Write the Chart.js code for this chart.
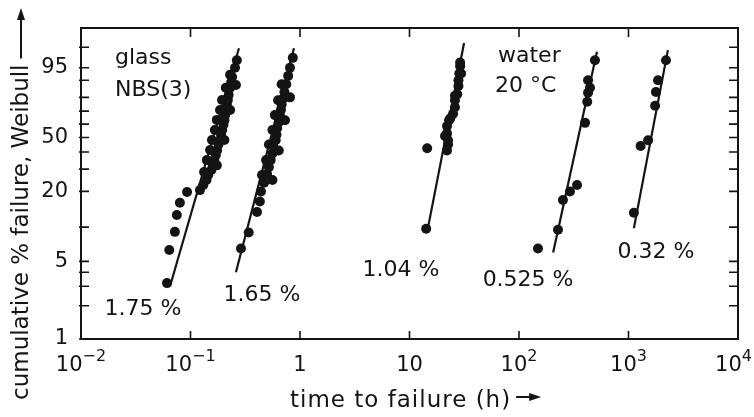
<!DOCTYPE html>
<html>
<head>
<meta charset="utf-8">
<script src="https://cdn.jsdelivr.net/npm/chart.js@4.4.1/dist/chart.umd.min.js"></script>
<style>
    html, body { margin: 0; padding: 0; background: #fff; }
    canvas { display: block; }
</style>
</head>
<body>
<canvas id="weibullChart" width="754" height="417"></canvas>
<script>
// time to failure (h) and cumulative % failure, one pair of arrays per strain level
const t175 = [0.061, 0.064, 0.072, 0.075, 0.080, 0.093, 0.122, 0.131, 0.140, 0.145, 0.155, 0.160, 0.165, 0.170, 0.175, 0.180, 0.186, 0.190, 0.195, 0.200, 0.204, 0.207, 0.210, 0.215, 0.219, 0.223, 0.230, 0.235, 0.240, 0.255, 0.265,
              0.133, 0.141, 0.151, 0.157, 0.167, 0.174, 0.186, 0.194, 0.210, 0.230, 0.174, 0.204, 0.230, 0.260];
const f175 = [3.2, 6.3, 9.1, 12.7, 16.1, 19.8, 20.5, 22.5, 24.7, 27, 29.5, 32, 35, 38, 41, 45, 48, 52, 55.6, 59.5, 63, 67, 71, 74.5, 78, 81.5, 86, 89, 91.5, 95, 97,
              28.5, 35, 41.3, 48.2, 55.6, 63.3, 70.9, 78.2, 86, 92.5, 32, 48.2, 70.9, 87.6];

const t165 = [0.289, 0.34, 0.405, 0.43, 0.44, 0.47, 0.50, 0.52, 0.54, 0.56, 0.57, 0.60, 0.61, 0.62, 0.64, 0.66, 0.67, 0.68, 0.70, 0.72, 0.75, 0.78, 0.81, 0.86,
              0.45, 0.49, 0.52, 0.56, 0.59, 0.63, 0.68, 0.56, 0.64, 0.73, 0.81];
const f165 = [6.5, 9, 13.5, 16.5, 20, 23.5, 27.5, 31, 35, 39, 44, 48, 52, 57, 61.5, 66, 71, 75, 79, 83.5, 88, 92, 95, 97.5,
              27, 35, 45, 55.6, 67, 78, 88, 24.7, 41, 63, 80];

const t104 = [14.2, 14.5, 22, 22.5, 22.5, 22, 22, 23, 25, 26, 26, 27.3, 28, 28, 28.5, 29, 29, 21.1, 23.6, 26, 29.6];
const f104 = [9.7, 42.5, 41, 45, 48, 53, 58.5, 63, 68, 73, 78, 82, 87, 90, 93, 95.5, 96.5, 51, 64.5, 81, 93];

const t0525 = [149, 227, 252, 292, 339, 401, 420, 427, 445, 427, 494];
const f0525 = [6.5, 9.5, 17, 20, 22.5, 61, 77, 83, 86, 90, 97];

const t032 = [1120, 1290, 1510, 1750, 1780, 1860, 2200];
const f032 = [13.3, 44, 48, 74, 83.5, 90, 97];

// fitted straight lines (end points)
const fitT175 = [0.065, 0.277],  fitF175 = [3.0, 98.9];
const fitT165 = [0.26, 0.881],   fitF165 = [4.0, 98.9];
const fitT104 = [14.5, 31.5],    fitF104 = [9.1, 99.35];
const fitT0525 = [205, 515],     fitF0525 = [6.0, 98.5];
const fitT032 = [1120, 2290],    fitF032 = [9.8, 98.7];

const strainLabels = ['1.75 %', '1.65 %', '1.04 %', '0.525 %', '0.32 %'];
const strainLabelT = [0.0368, 0.45, 8.36, 121, 1780];
const strainLabelF = [1.87, 2.5, 4.19, 3.41, 6.06];

const xTickVals = [0.01, 0.1, 1, 10, 100, 1000, 10000];
const xTickBase = ['10', '10', '1', '10', '10', '10', '10'];
const xTickExp = ['\u22122', '\u22121', '', '', '2', '3', '4'];
const yTickPct = [1, 2, 3, 4, 5, 10, 20, 30, 40, 50, 60, 70, 80, 90, 95, 99];
const yLabelPct = [1, 5, 20, 50, 95];

const FONT = '"DejaVu Sans", sans-serif';
const INK = '#141414';

// Weibull probability transform: ln(-ln(1 - F))
const weib = p => Math.log(-Math.log(1 - p / 100));
const pts = (ts, fs) => ts.map((t, i) => ({ x: t, y: weib(fs[i]) }));

const pointSet = (ts, fs) => ({
    data: pts(ts, fs),
    pointRadius: 5,
    pointBackgroundColor: INK,
    pointBorderWidth: 0,
    showLine: false
});
const lineSet = (ts, fs) => ({
    data: pts(ts, fs),
    showLine: true,
    borderColor: INK,
    borderWidth: 2.2,
    pointRadius: 0
});

function arrow(ctx, x1, y1, x2, y2) {
    const a = Math.atan2(y2 - y1, x2 - x1);
    ctx.beginPath();
    ctx.moveTo(x1, y1);
    ctx.lineTo(x2 - 8 * Math.cos(a), y2 - 8 * Math.sin(a));
    ctx.stroke();
    ctx.beginPath();
    ctx.moveTo(x2, y2);
    ctx.lineTo(x2 - 12 * Math.cos(a) + 4 * Math.sin(a), y2 - 12 * Math.sin(a) - 4 * Math.cos(a));
    ctx.lineTo(x2 - 12 * Math.cos(a) - 4 * Math.sin(a), y2 - 12 * Math.sin(a) + 4 * Math.cos(a));
    ctx.closePath();
    ctx.fill();
}

const decorations = {
    id: 'decorations',
    afterDraw(chart) {
        const { ctx, chartArea: a, scales: { x, y } } = chart;
        ctx.save();
        ctx.strokeStyle = INK;
        ctx.fillStyle = INK;

        // frame
        ctx.lineWidth = 2;
        ctx.strokeRect(a.left, a.top, a.right - a.left, a.bottom - a.top);

        // inward ticks
        ctx.lineWidth = 1.6;
        ctx.beginPath();
        xTickVals.slice(1, -1).forEach(v => {
            const px = x.getPixelForValue(v);
            ctx.moveTo(px, a.bottom); ctx.lineTo(px, a.bottom - 8);
            ctx.moveTo(px, a.top); ctx.lineTo(px, a.top + 9);
        });
        yTickPct.forEach(p => {
            const py = y.getPixelForValue(weib(p));
            ctx.moveTo(a.left - 2, py); ctx.lineTo(a.left + 8, py);
            ctx.moveTo(a.right - 9, py); ctx.lineTo(a.right, py);
        });
        ctx.stroke();

        // x tick labels with exponents (kept inside the canvas)
        ctx.textBaseline = 'alphabetic';
        ctx.textAlign = 'left';
        xTickVals.forEach((v, i) => {
            const px = x.getPixelForValue(v);
            ctx.font = '21px ' + FONT;
            const wb = ctx.measureText(xTickBase[i]).width;
            ctx.font = '16px ' + FONT;
            const we = xTickExp[i] ? ctx.measureText(xTickExp[i]).width : 0;
            const x0 = Math.min(px - (wb + we) / 2, chart.width - 2 - wb - we);
            ctx.font = '21px ' + FONT;
            ctx.fillText(xTickBase[i], x0, a.bottom + 32);
            if (xTickExp[i]) {
                ctx.font = '16px ' + FONT;
                ctx.fillText(xTickExp[i], x0 + wb, a.bottom + 22);
            }
        });

        // strain labels
        ctx.font = '22px ' + FONT;
        ctx.textAlign = 'center';
        ctx.textBaseline = 'middle';
        strainLabels.forEach((s, i) => {
            ctx.fillText(s, x.getPixelForValue(strainLabelT[i]), y.getPixelForValue(weib(strainLabelF[i])));
        });

        // corner notes
        ctx.textAlign = 'left';
        ctx.textBaseline = 'alphabetic';
        ctx.fillText('glass', a.left + 34, a.top + 36);
        ctx.fillText('NBS(3)', a.left + 34, a.top + 68);
        ctx.fillText('water', a.left + 417, a.top + 34);
        ctx.fillText('20 \u00B0C', a.left + 414, a.top + 64);

        // axis titles
        ctx.font = '23px ' + FONT;
        ctx.letterSpacing = '1px';
        ctx.fillText('time to failure (h)', 290, 407);
        const xw = ctx.measureText('time to failure (h)').width;
        ctx.letterSpacing = '0px';
        ctx.lineWidth = 2;
        arrow(ctx, 290 + xw + 5, 397, 290 + xw + 30, 397);

        ctx.save();
        ctx.translate(28, 400);
        ctx.rotate(-Math.PI / 2);
        ctx.fillText('cumulative % failure, Weibull', 0, 0);
        const yw = ctx.measureText('cumulative % failure, Weibull').width;
        ctx.restore();
        arrow(ctx, 21, 400 - yw - 6, 21, 8);

        ctx.restore();
    }
};

new Chart(document.getElementById('weibullChart'), {
    type: 'scatter',
    data: {
        datasets: [
            lineSet(fitT175, fitF175), pointSet(t175, f175),
            lineSet(fitT165, fitF165), pointSet(t165, f165),
            lineSet(fitT104, fitF104), pointSet(t104, f104),
            lineSet(fitT0525, fitF0525), pointSet(t0525, f0525),
            lineSet(fitT032, fitF032), pointSet(t032, f032)
        ]
    },
    options: {
        responsive: false,
        animation: false,
        devicePixelRatio: 1,
        layout: { padding: { top: 28, right: 16, left: 0, bottom: 0 } },
        plugins: { legend: { display: false }, tooltip: { enabled: false } },
        scales: {
            x: {
                type: 'logarithmic',
                min: 0.01,
                max: 10000,
                grid: { display: false },
                border: { display: false },
                ticks: { display: false },
                afterFit: s => { s.height = 78; }
            },
            y: {
                type: 'linear',
                min: weib(1),
                max: weib(99.9),
                grid: { display: false },
                border: { display: false },
                afterBuildTicks: s => { s.ticks = yTickPct.map(p => ({ value: weib(p) })); },
                ticks: {
                    autoSkip: false,
                    padding: 5,
                    color: INK,
                    font: { family: FONT, size: 21 },
                    callback: (v, i) => yLabelPct.includes(yTickPct[i]) ? String(yTickPct[i]) : ''
                },
                afterFit: s => { s.width = 81; }
            }
        }
    },
    plugins: [decorations]
});
</script>
</body>
</html>
